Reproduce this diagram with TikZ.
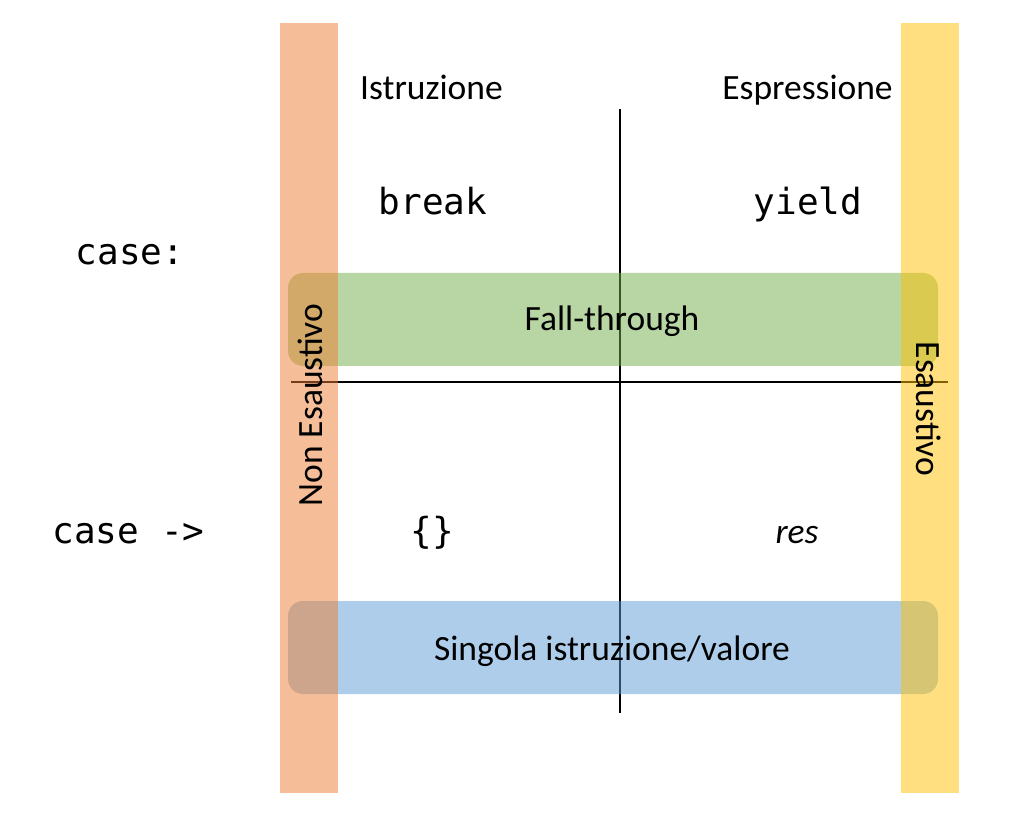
\documentclass[tikz,border=0pt]{standalone}
\usepackage{fontspec}
\setmainfont{Carlito}
\newfontfamily\codefont{DejaVu Sans Mono}
\definecolor{accgreen}{HTML}{70AD47}
\definecolor{accblue}{HTML}{5B9BD5}
\definecolor{accorange}{HTML}{ED7D31}
\definecolor{accyellow}{HTML}{FFC000}
\begin{document}
\begin{tikzpicture}[x=1pt,y=-1pt]
\useasboundingbox (0,0) rectangle (1013,818);
\tikzset{
 lbl/.style={font=\fontsize{35.5}{42}\selectfont, inner sep=0pt},
 code/.style={font=\codefont\fontsize{36}{42}\selectfont, inner sep=0pt},
 band/.style={draw=none, rounded corners=15pt, minimum width=650pt, minimum height=93pt, inner sep=0pt, fill opacity=0.5, text opacity=1, font=\fontsize{35.5}{42}\selectfont},
 bar/.style={draw=none, minimum width=58pt, minimum height=770pt, inner sep=0pt, fill opacity=0.5},
 axis/.style={line width=2pt}
}
% axes
\coordinate (vt) at (620,109);
\coordinate (vb) at (620,713);
\coordinate (hl) at (291,382);
\coordinate (hr) at (948,382);
\draw[axis] (vt) -- (vb);
\draw[axis] (hl) -- (hr);
% bands
\node[band, fill=accgreen] (fall) at (613,319.5) {};
\node[band, fill=accblue] (single) at (613,647.5) {};
% bars
\node[bar, fill=accorange] (nonbar) at (309,408) {};
\node[bar, fill=accyellow] (esbar) at (930,408) {};
% labels
\node[lbl, anchor=base] (istr) at (431.5,100) {Istruzione};
\node[lbl, anchor=base] (espr) at (807.5,100) {Espressione};
\node[code, anchor=base] (brk) at (433,215) {break};
\node[code, anchor=base] (yld) at (808,215) {yield};
\node[code, anchor=base] (case1) at (130,265) {case:};
\node[code, anchor=base] (case2) at (128.5,543) {case ->};
\node[code, anchor=base] (braces) at (432,543) {\{\}};
\node[lbl, anchor=base] (res) at (797,543) {\itshape res};
\node[lbl, anchor=base] (falltxt) at (612,331) {Fall-through};
\node[lbl, anchor=base] (singtxt) at (612,660) {Singola istruzione/valore};
\node[lbl, rotate=90] (nonesa) at (310,405) {Non Esaustivo};
\node[lbl, rotate=-90] (esa) at (929,409) {Esaustivo};
\end{tikzpicture}
\end{document}
